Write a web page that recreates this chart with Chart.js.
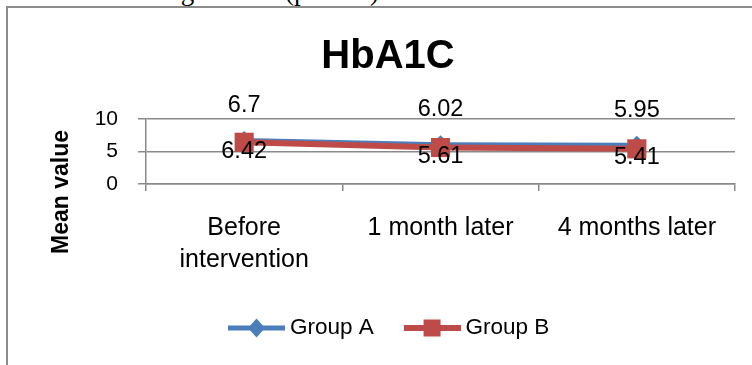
<!DOCTYPE html>
<html>
<head>
<meta charset="utf-8">
<script src="https://cdn.jsdelivr.net/npm/chart.js@4.4.1/dist/chart.umd.min.js"></script>
<style>
  html, body { margin: 0; padding: 0; background: #fff; overflow: hidden; width: 752px; height: 365px; }
  #caption { position: absolute; left: 0; top: -22px; font: 27px/26px "Liberation Serif", serif; color: #000; white-space: nowrap; }
  #frame { position: absolute; left: 6px; top: 6px; border-left: 2px solid #8c8c8c; border-top: 2px solid #8c8c8c; }
  canvas { display: block; }
</style>
</head>
<body>
<div id="caption">of the last visiting in each (p&lt;0.05)</div>
<div id="frame"><canvas id="c" width="760" height="370"></canvas></div>
<script>
// HbA1C means per group over the three visits
const categories = [['Before', 'intervention'], '1 month later', '4 months later'];
const seriesNames = ['Group A', 'Group B'];
const groupA = [6.7, 6.02, 5.95];
const groupB = [6.42, 5.61, 5.41];
const yTicks = { min: 0, max: 10, step: 5 };

const BLUE = '#4A7EBB';
const RED = '#BE4B48';
const GRID = '#8a8a8a';
const SANS = '"Liberation Sans", Arial, sans-serif';

// Legend swatches: a line segment with the series marker on it
function makeSwatch(color, lineW, marker) {
  const c = document.createElement('canvas');
  c.width = 57; c.height = 22;
  const g = c.getContext('2d');
  g.strokeStyle = color; g.lineWidth = lineW;
  g.beginPath(); g.moveTo(0, 11); g.lineTo(57, 11); g.stroke();
  g.fillStyle = color;
  g.beginPath();
  if (marker === 'diamond') {
    g.moveTo(20, 11); g.lineTo(28.5, 1.5); g.lineTo(37, 11); g.lineTo(28.5, 20.5);
  } else {
    g.rect(20, 2.5, 17, 17);
  }
  g.closePath(); g.fill();
  return c;
}
const swatches = [makeSwatch(BLUE, 5, 'diamond'), makeSwatch(RED, 6, 'square')];

// Value labels: Group A above its points, Group B below
const valueLabels = {
  id: 'valueLabels',
  afterDatasetsDraw(chart) {
    const ctx = chart.ctx;
    ctx.save();
    ctx.font = '23.5px ' + SANS;
    ctx.fillStyle = '#000';
    ctx.textAlign = 'center';
    ctx.textBaseline = 'middle';
    chart.data.datasets.forEach((ds, di) => {
      const meta = chart.getDatasetMeta(di);
      const dy = di === 0 ? -35 : 9;
      meta.data.forEach((pt, i) => {
        ctx.fillText(String(ds.data[i]), pt.x, pt.y + dy);
      });
    });
    ctx.restore();
  }
};

// Vertical axis title, placed beside the lower part of the frame
const axisTitle = {
  id: 'axisTitle',
  afterDraw(chart) {
    const ctx = chart.ctx;
    ctx.save();
    ctx.translate(54, 184);
    ctx.rotate(-Math.PI / 2);
    ctx.font = 'bold 23px ' + SANS;
    ctx.fillStyle = '#000';
    ctx.textAlign = 'center';
    ctx.textBaseline = 'middle';
    ctx.fillText('Mean value', 0, 0);
    ctx.restore();
  }
};

// Nudge title and legend to their places within the frame
const placeBlocks = {
  id: 'placeBlocks',
  afterLayout(chart) {
    const t = chart.titleBlock;
    if (t) { t.left += 16.5; t.right += 16.5; }
    const lg = chart.legend;
    if (lg) {
      const pad = lg.options.labels.padding;
      const w = lg.right - lg.left;
      lg.left = 226.25 - pad;
      lg.right = lg.left + w;
    }
  }
};

new Chart(document.getElementById('c'), {
  type: 'line',
  data: {
    labels: categories,
    datasets: [
      {
        label: seriesNames[0],
        data: groupA,
        borderColor: BLUE,
        backgroundColor: BLUE,
        borderWidth: 5,
        pointStyle: 'rectRot',
        pointRadius: 9.5,
        pointHoverRadius: 9.5,
        pointBorderWidth: 0,
        tension: 0,
        order: 2,
        clip: false
      },
      {
        label: seriesNames[1],
        data: groupB,
        borderColor: RED,
        backgroundColor: RED,
        borderWidth: 6,
        pointStyle: 'rect',
        pointRadius: 13.5,
        pointHoverRadius: 13.5,
        pointBorderWidth: 0,
        tension: 0,
        order: 1,
        clip: false
      }
    ]
  },
  options: {
    responsive: false,
    animation: false,
    events: [],
    layout: { padding: { left: 0, right: 33, top: 0, bottom: 28.75 } },
    plugins: {
      tooltip: { enabled: false },
      title: {
        display: true,
        text: 'HbA1C',
        color: '#000',
        font: { family: SANS, size: 40, weight: 'bold', lineHeight: 1.2 },
        padding: { top: 25, bottom: 38 }
      },
      legend: {
        display: true,
        position: 'bottom',
        align: 'start',
        labels: {
          usePointStyle: true,
          pointStyleWidth: 44.5,
          padding: 36,
          color: '#000',
          font: { family: SANS, size: 22.5 },
          sort: (a, b) => a.datasetIndex - b.datasetIndex,
          generateLabels(chart) {
            return Chart.defaults.plugins.legend.labels.generateLabels(chart)
              .map(item => Object.assign(item, { pointStyle: swatches[item.datasetIndex] }));
          }
        }
      }
    },
    scales: {
      x: {
        type: 'category',
        offset: true,
        grid: { display: true, drawOnChartArea: false, drawTicks: true, tickLength: 7, color: GRID, lineWidth: 1.5, offset: true },
        border: { display: true, color: GRID, width: 1.5 },
        ticks: { padding: 21, color: '#000', maxRotation: 0, autoSkip: false, font: { family: SANS, size: 25, lineHeight: 1.28 } },
        afterFit(s) { s.height = 96.75; }
      },
      y: {
        min: yTicks.min,
        max: yTicks.max,
        grid: { color: GRID, lineWidth: 1.5, tickLength: 8, drawTicks: true },
        border: { display: true, color: GRID, width: 1.5 },
        ticks: { stepSize: yTicks.step, padding: 20, color: '#000', font: { family: SANS, size: 21 } },
        afterFit(s) { s.width = 138; }
      }
    }
  },
  plugins: [valueLabels, axisTitle, placeBlocks]
});
</script>
</body>
</html>
